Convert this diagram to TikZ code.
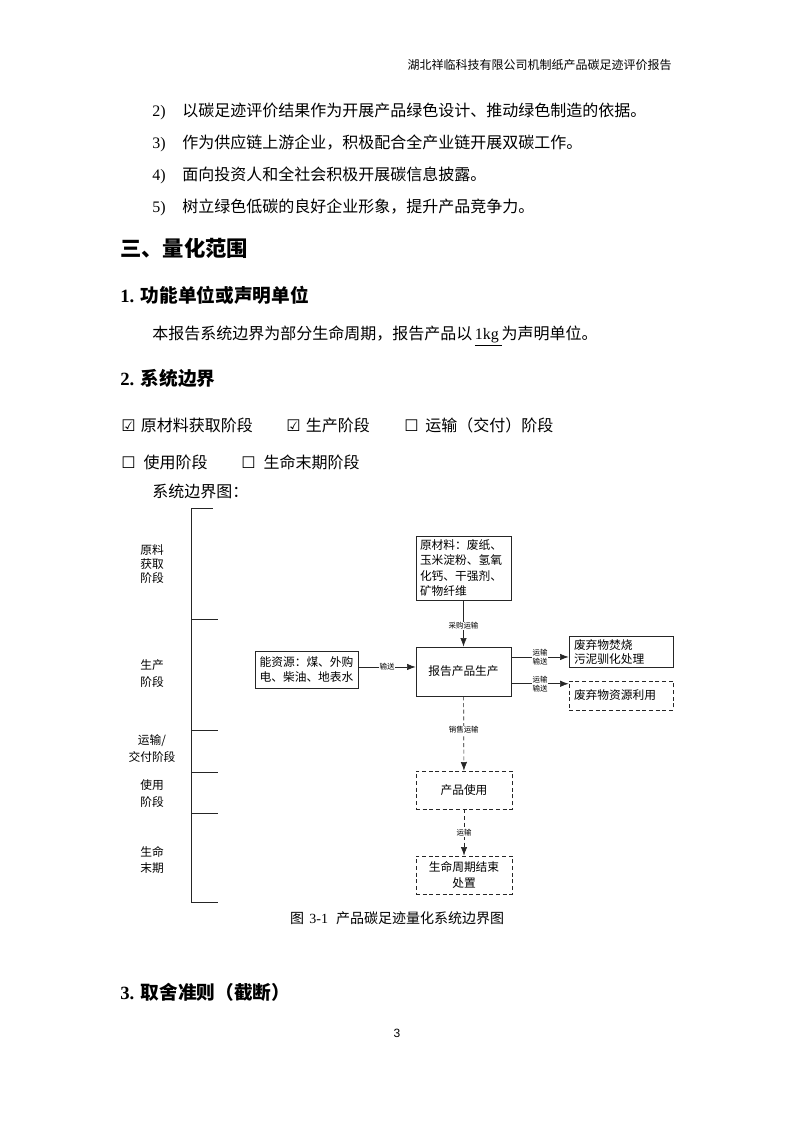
\documentclass[tikz,border=0pt]{standalone}
\usepackage{fontspec}
\setmainfont{Liberation Serif}
\setsansfont{Liberation Sans}
\newfontfamily\cjk{Noto Sans CJK SC}
\newfontfamily\symfont{DejaVu Sans}
\usetikzlibrary{arrows.meta, positioning}
\newlength\px
\setlength\px{0.75pt}
\newcommand\fs[2]{\fontsize{#1}{#2}\selectfont}

\begin{document}
\begin{tikzpicture}[x=0.75pt, y=-0.75pt,
    body/.style={anchor=west, inner sep=0pt, font=\cjk\fs{12}{16}},
    head/.style={anchor=west, inner sep=0pt, font=\cjk\bfseries\fs{14}{18}},
    box/.style={draw=black!85, line width=0.5pt, inner sep=2pt, font=\cjk\fs{8.8}{11.5}},
    dbox/.style={box, dash pattern=on 3pt off 2pt},
    stage/.style={align=center, inner sep=0pt, font=\cjk\fs{8.8}{12.5}},
    tag/.style={fill=white, inner sep=0.6pt, align=center, font=\cjk\fs{5.6}{6.8}},
    arr/.style={draw=black!85, line width=0.5pt, -{Latex[length=6.5pt,width=4.8pt]}},
    darr/.style={arr, dash pattern=on 3pt off 2pt}]

    \useasboundingbox[fill=white] (0,0) rectangle (794,1123);

    \node[anchor=east, inner sep=0pt, font=\cjk\fs{9}{12}] (hdr) at (672,65)
        {湖北祥临科技有限公司机制纸产品碳足迹评价报告};

    \foreach \n/\y/\t in {2/111/以碳足迹评价结果作为开展产品绿色设计、推动绿色制造的依据。,
                          3/143/作为供应链上游企业，积极配合全产业链开展双碳工作。,
                          4/175/面向投资人和全社会积极开展碳信息披露。,
                          5/207/树立绿色低碳的良好企业形象，提升产品竞争力。} {
        \node[body] (item\n) at (152,\y) {\makebox[30\px][l]{\rmfamily\n)}\t};
    }

    \node[anchor=west, inner sep=0pt, font=\cjk\bfseries\fs{16}{20}] (sec) at (120,248) {三、量化范围};
    \node[head] (sub1) at (120,295) {{\rmfamily 1.}\hspace{5pt}功能单位或声明单位};
    \node[body] (unit) at (152,336)
        {本报告系统边界为部分生命周期，报告产品以\hspace{2pt}{\rmfamily\underline{1kg\,}}为声明单位。};
    \node[head] (sub2) at (120,378) {{\rmfamily 2.}\hspace{5pt}系统边界};

    \node[body] (ck1) at (121,425) {{\symfont ☑}\hspace{4pt}原材料获取阶段};
    \node[body] (ck2) at (286,425) {{\symfont ☑}\hspace{4pt}生产阶段};
    \node[body] (ck3) at (404,425) {{\symfont ☐}\hspace{5pt}运输（交付）阶段};
    \node[body] (ck4) at (121,462) {{\symfont ☐}\hspace{6pt}使用阶段};
    \node[body] (ck5) at (241,462) {{\symfont ☐}\hspace{6pt}生命末期阶段};
    \node[body] (figlead) at (152,491) {系统边界图：};

    \draw[black!85, line width=0.6pt] (191,508) -- (191,902);
    \foreach \y/\e in {508/213, 619/218, 730/218, 772/218, 813/218, 902/218}
        \draw[black!85, line width=0.6pt] (191,\y) -- (\e,\y);

    \node[stage, font=\cjk\fs{8.8}{10.8}] (st1) at (152,564) {原料\\获取\\阶段};
    \node[stage] (st2) at (152,673.5) {生产\\阶段};
    \node[stage] (st3) at (152,748.5) {运输/\\交付阶段};
    \node[stage] (st4) at (152,793.5) {使用\\阶段};
    \node[stage] (st5) at (152,860) {生命\\末期};

    \node[box, minimum width=95\px, minimum height=64\px, text width=87\px, align=left] (raw)
        at (463.5,568) {原材料：废纸、\\玉米淀粉、氢氧\\化钙、干强剂、\\矿物纤维};
    \node[box, minimum width=95\px, minimum height=49\px] (prod) at (463.5,671.5) {报告产品生产};
    \node[box, minimum width=103\px, minimum height=37\px, align=center, font=\cjk\fs{8.8}{11.3}] (energy)
        at (306.5,669.5) {能资源：煤、外购\\电、柴油、地表水};
    \node[box, minimum width=104\px, minimum height=30\px, text width=94\px, align=left, font=\cjk\fs{8.8}{10.6}] (burn)
        at (621,652) {废弃物焚烧\\污泥驯化处理};
    \node[dbox, minimum width=104\px, minimum height=29\px, text width=94\px, align=left] (reuse)
        at (621,695.5) {废弃物资源利用};
    \node[dbox, minimum width=96\px, minimum height=38\px] (use) at (464,790) {产品使用};
    \node[dbox, minimum width=96\px, minimum height=38\px, align=center, font=\cjk\fs{8.8}{11.3}] (end)
        at (464,875) {生命周期结束\\处置};

    \draw[arr] (raw) -- node[tag, pos=0.55] {采购运输} (prod);
    \draw[arr] ([yshift=1.9pt]energy.east) -- node[tag] {输送} ([yshift=1.9pt]energy.east -| prod.west);
    \draw[arr] ([yshift=10.9pt]prod.east) -- node[tag] {运输\\输送} ([yshift=10.9pt]prod.east -| burn.west);
    \draw[arr] ([yshift=-9.2pt]prod.east) -- node[tag] {运输\\输送} ([yshift=-9.2pt]prod.east -| reuse.west);
    \draw[darr] (prod) -- node[tag, pos=0.45] {销售运输} (use);
    \draw[darr] (use) -- node[tag] {运输} (end);

    \node[inner sep=0pt, font=\cjk\fs{10.5}{13}] (cap) at (397,918)
        {图\hspace{4pt}{\rmfamily 3-1}\hspace{6pt}产品碳足迹量化系统边界图};

    \node[head] (sub3) at (120,992) {{\rmfamily 3.}\hspace{5pt}取舍准则（截断）};
    \node[inner sep=0pt, font=\sffamily\fs{9}{11}] (page) at (397,1033) {3};
\end{tikzpicture}
\end{document}
